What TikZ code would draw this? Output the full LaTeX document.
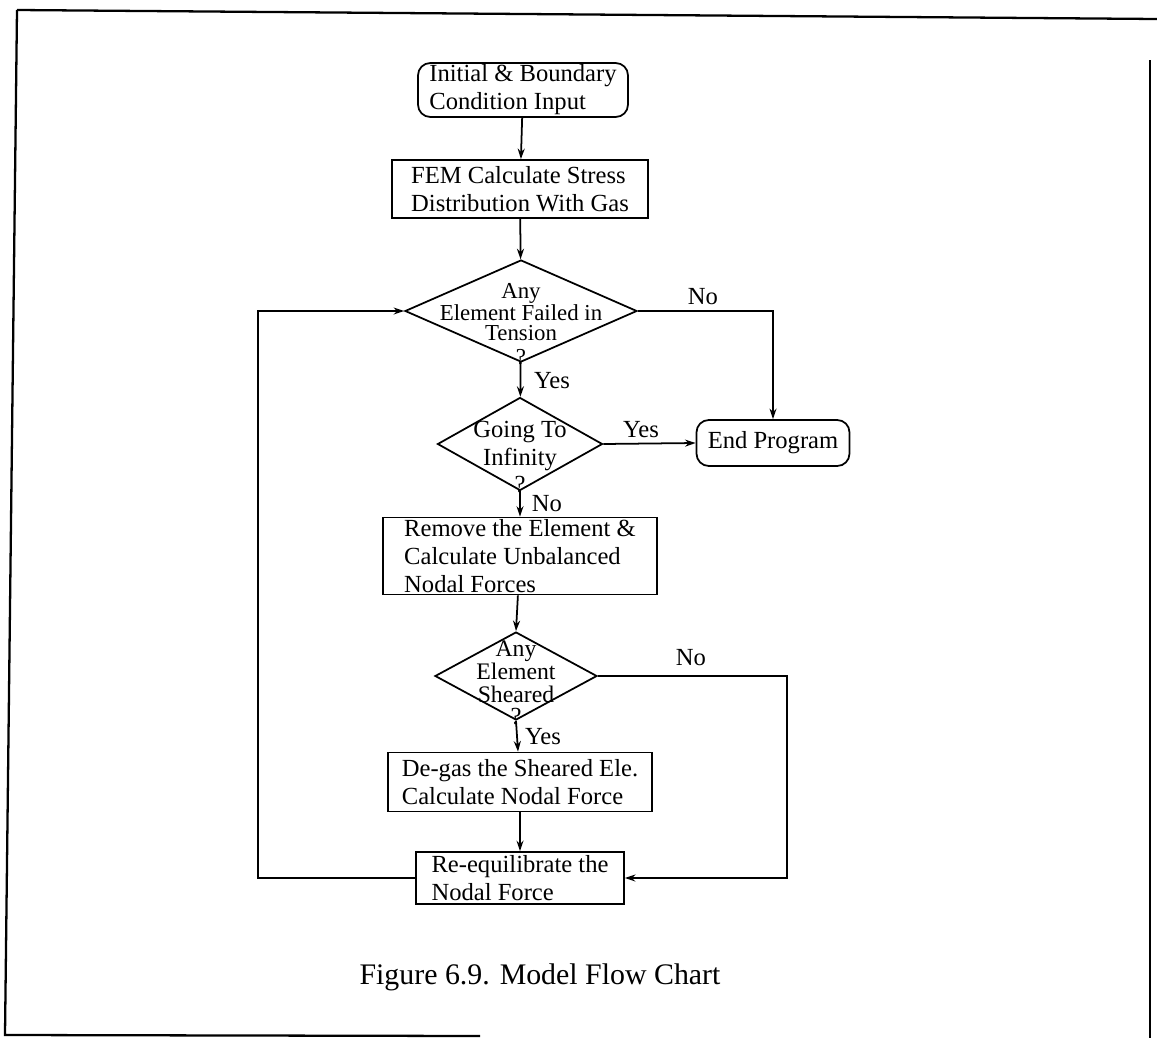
\documentclass[tikz,border=0pt]{standalone}
\usepackage{fontspec}
\setmainfont{Liberation Serif}
\usetikzlibrary{shapes.geometric,arrows.meta}
\begin{document}
\begin{tikzpicture}[x=0.02cm,y=-0.02cm,
  every node/.style={font=\fontsize{14}{16}\selectfont},
  boxn/.style={draw,line width=1pt,rectangle,align=left,inner sep=0pt},
  rboxn/.style={boxn,rounded corners=7pt},
  decn/.style={draw,line width=1pt,diamond,inner sep=0pt},
  dtext/.style={align=center,inner sep=0pt},
  lbl/.style={inner sep=0pt},
  conn/.style={line width=1pt,-{Stealth[length=6pt,width=4pt]}},
  frame/.style={line width=1.3pt}]
\useasboundingbox (0,0) rectangle (1157,1038);
% frame
\draw[frame] (17,10) -- (1157,19);
\draw[frame] (17,10) -- (5,1035) -- (480,1036);
\draw[frame] (1150,60) -- (1150,1038);
% boxes
\node[rboxn,minimum width=210*0.02cm,minimum height=54*0.02cm] (start) at (523,90) {Initial \& Boundary\\Condition Input};
\node[boxn,minimum width=256*0.02cm,minimum height=58*0.02cm] (fem) at (520,189) {FEM Calculate Stress\\Distribution With Gas};
\node[decn,minimum width=232*0.02cm,minimum height=102*0.02cm] (d1) at (521,311) {};
\node[dtext,font=\fontsize{13}{11.5}\selectfont] (t1) at (521,312) {Any\\Element Failed in\\Tension};
\node[lbl,font=\fontsize{13}{14}\selectfont] (q1) at (521,357) {?};
\node[decn,minimum width=165*0.02cm,minimum height=93*0.02cm] (d2) at (520,444) {};
\node[dtext,font=\fontsize{14}{16}\selectfont] (t2) at (520,446) {Going To\\Infinity};
\node[lbl] (q2) at (520,485) {?};
\node[rboxn,minimum width=153*0.02cm,minimum height=46*0.02cm] (endp) at (773,443) {End Program};
\node[boxn,minimum width=274*0.02cm,minimum height=77*0.02cm] (remove) at (520,556) {Remove the Element \&\\Calculate Unbalanced\\Nodal Forces};
\node[decn,minimum width=162*0.02cm,minimum height=88*0.02cm] (d3) at (516,676) {};
\node[dtext,font=\fontsize{13.5}{13}\selectfont] (t3) at (516,672) {Any\\Element\\Sheared};
\node[lbl] (q3) at (516,717) {?};
\node[boxn,minimum width=264*0.02cm,minimum height=59*0.02cm] (degas) at (520,782) {De-gas the Sheared Ele.\\Calculate Nodal Force};
\node[boxn,minimum width=208*0.02cm,minimum height=52*0.02cm] (reeq) at (520,878) {Re-equilibrate the\\Nodal Force};
% connectors
\draw[conn] (start) -- (fem);
\draw[conn] (fem) -- (d1);
\draw[conn] (d1) -- (d2);
\draw[conn] (d2.east) -- (endp.west);
\draw[conn] (d1.east) -| (endp.north);
\draw[conn] (d2) -- (remove);
\draw[conn] (remove) -- (d3.north);
\draw[conn] (d3.south) -- (degas);
\draw[conn] (degas) -- (reeq);
\draw[conn] (d3.east) -| (787,790) |- (reeq.east);
\draw[conn] (reeq.west) -| (258,600) |- (d1.west);
% labels
\node[lbl] (l1) at (703,297) {No};
\node[lbl] (l2) at (552,381) {Yes};
\node[lbl] (l3) at (641,430) {Yes};
\node[lbl] (l4) at (547,504) {No};
\node[lbl] (l5) at (691,658) {No};
\node[lbl] (l6) at (543,737) {Yes};
\node[lbl,font=\fontsize{17}{19}\selectfont,anchor=base] (cap) at (540,984) {Figure 6.9. Model Flow Chart};
\end{tikzpicture}
\end{document}
